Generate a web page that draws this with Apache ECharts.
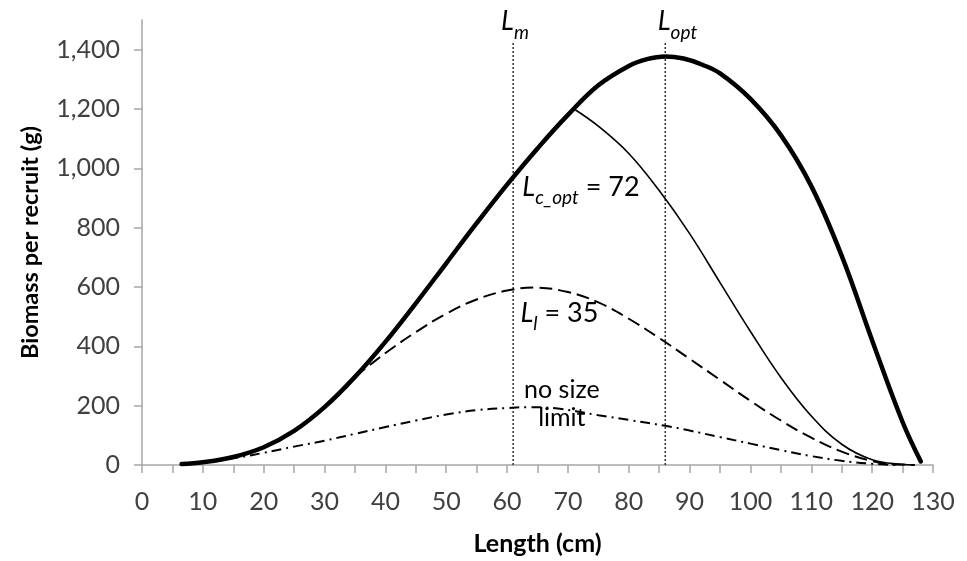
<!DOCTYPE html>
<html><head><meta charset="utf-8">
<script src="https://cdn.jsdelivr.net/npm/echarts@6.0.0/dist/echarts.min.js"></script>
<style>html,body{margin:0;padding:0;background:#fff}#c{width:967px;height:561px}</style>
</head><body><div id="c"></div><script>
// ---- data ----
const xTickValues = [0,5,10,15,20,25,30,35,40,45,50,55,60,65,70,75,80,85,90,95,100,105,110,115,120,125,130];
const xLabelValues = [0,10,20,30,40,50,60,70,80,90,100,110,120,130];
const yTickValues = [0,200,400,600,800,1000,1200,1400];

// thick curve: maximum biomass per recruit by length
const totalLen = [6.5,10,15,20,25,30,35,40,45,50,55,60,65,70,75,80,83,86,89,92,95,100,105,110,115,120,125,128];
const totalBio = [3,9,27,60,115,195,297,415,545,680,815,945,1067,1180,1280,1345,1368,1377,1370,1350,1320,1234,1112,940,705,420,145,12];

// thin curve: Lc_opt = 72
const lcLen = [71,75,80,85,90,95,100,105,110,115,120,125,127];
const lcBio = [1200,1142,1050,925,780,615,450,295,165,70,18,2,0];

// dashed curve: Ll = 35
const llLen = [35,38,41,45,50,55,60,64.5,70,75,80,85,90,95,100,105,110,115,120,123,127];
const llBio = [297,346,392,448,510,558,588,598,583,548,493,428,358,287,216,150,92,45,13,3,0];

// dash-dot curve: no size limit
const nsLen = [7,10,16,20,25,30,35,40,45,50,55,60,63.5,68,75,80,86,90,95,100,105,110,115,120,124];
const nsBio = [2,8,26,41,62,82,105,128,150,170,185,192,195,191,168,152,132,116,94,72,50,30,14,4,0];

// reference lengths
const Lm = 61;
const Lopt = 86;
const refLineTop = 1425;

const pairs = (xs, ys) => xs.map((x, i) => [x, ys[i]]);

const chart = echarts.init(document.getElementById('c'), null, {renderer: 'canvas'});
const FONT = 'Lato';
const rich = {
  L: {fontFamily: FONT, fontStyle: 'italic', fontSize: 27, color: '#000', padding: [0,0,7,0], verticalAlign: 'bottom'},
  s: {fontFamily: FONT, fontStyle: 'italic', fontSize: 19, color: '#000', verticalAlign: 'bottom'},
  n: {fontFamily: FONT, fontSize: 27, color: '#000', padding: [0,0,7,0], verticalAlign: 'bottom'},
  t: {fontFamily: FONT, fontSize: 25, color: '#000', lineHeight: 28}
};

const option = {
  backgroundColor: '#fff',
  animation: false,
  grid: {left: 142, right: 34, top: 20, bottom: 95},
  xAxis: {
    type: 'value', min: 0, max: 130,
    name: 'Length (cm)', nameLocation: 'middle', nameGap: 66,
    nameTextStyle: {fontFamily: FONT, fontWeight: 'bold', fontSize: 25, color: '#000'},
    axisLine: {show: true, lineStyle: {color: '#a6a6a6', width: 1.5}},
    axisTick: {show: true, inside: false, length: 8, customValues: xTickValues, lineStyle: {color: '#a6a6a6', width: 1.5}},
    axisLabel: {customValues: xLabelValues, margin: 24, fontFamily: FONT, fontSize: 25, color: '#404040'},
    splitLine: {show: false}
  },
  yAxis: {
    type: 'value', min: 0, max: 1500,
    name: 'Biomass per recruit (g)', nameLocation: 'middle', nameGap: 100, nameRotate: 90,
    nameTextStyle: {fontFamily: FONT, fontWeight: 'bold', fontSize: 23.5, color: '#000'},
    axisLine: {show: true, lineStyle: {color: '#a6a6a6', width: 1.5}},
    axisTick: {show: true, inside: false, length: 8, customValues: yTickValues, lineStyle: {color: '#a6a6a6', width: 1.5}},
    axisLabel: {customValues: yTickValues, margin: 22, fontFamily: FONT, fontSize: 25, color: '#404040',
      formatter: v => v.toLocaleString('en-US')},
    splitLine: {show: false}
  },
  series: [
    {type: 'line', name: 'Lm', data: [[Lm, 0], [Lm, refLineTop]], symbol: 'none', silent: true,
      lineStyle: {color: '#333', width: 1.5, type: [2, 2]},
      markPoint: {symbol: 'circle', symbolSize: 0, silent: true,
        data: [{coord: [61.3, 1483], label: {show: true, position: [0,0], align: 'center', verticalAlign: 'middle', formatter: '{L|L}{s|m}', rich: rich}}]}},
    {type: 'line', name: 'Lopt', data: [[Lopt, 0], [Lopt, refLineTop]], symbol: 'none', silent: true,
      lineStyle: {color: '#333', width: 1.5, type: [2, 2]},
      markPoint: {symbol: 'circle', symbolSize: 0, silent: true,
        data: [{coord: [88, 1483], label: {show: true, position: [0,0], align: 'center', verticalAlign: 'middle', formatter: '{L|L}{s|opt}', rich: rich}}]}},
    {type: 'line', name: 'no size limit', data: pairs(nsLen, nsBio), symbol: 'none', smooth: 0.4,
      lineStyle: {color: '#000', width: 2, type: [10, 5, 2, 5]},
      markPoint: {symbol: 'circle', symbolSize: 0, silent: true,
        data: [{coord: [69, 205], label: {show: true, position: [0,0], align: 'center', verticalAlign: 'middle', formatter: '{t|no size}\n{t|limit}', rich: rich}}]}},
    {type: 'line', name: 'Ll = 35', data: pairs(llLen, llBio), symbol: 'none', smooth: 0.4,
      lineStyle: {color: '#000', width: 2, type: [13, 6]},
      markPoint: {symbol: 'circle', symbolSize: 0, silent: true,
        data: [{coord: [62.2, 500], label: {show: true, position: [0,0], align: 'left', verticalAlign: 'middle', formatter: '{L|L}{s|l}{n| = 35}', rich: rich}}]}},
    {type: 'line', name: 'Lc_opt = 72', data: pairs(lcLen, lcBio), symbol: 'none', smooth: 0.4,
      lineStyle: {color: '#000', width: 1.6},
      markPoint: {symbol: 'circle', symbolSize: 0, silent: true,
        data: [{coord: [62.5, 925], label: {show: true, position: [0,0], align: 'left', verticalAlign: 'middle', formatter: '{L|L}{s|c_opt}{n| = 72}', rich: rich}}]}},
    {type: 'line', name: 'total', data: pairs(totalLen, totalBio), symbol: 'none', smooth: 0.4, z: 5,
      lineStyle: {color: '#000', width: 4.5, cap: 'round'}}
  ]
};
chart.setOption(option);
</script></body></html>
